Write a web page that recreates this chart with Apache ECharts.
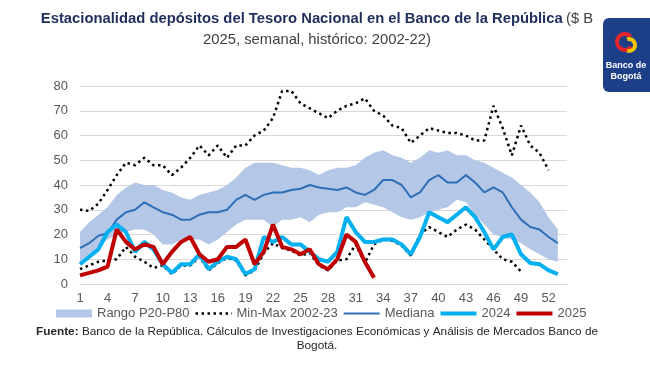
<!DOCTYPE html>
<html><head><meta charset="utf-8">
<script src="https://cdn.jsdelivr.net/npm/echarts@6/dist/echarts.min.js"></script>
<style>html,body{margin:0;padding:0;background:#fff}#c{width:650px;height:365px}</style>
</head><body><div id="c"></div>
<script>
// Week categories (axis runs slightly past the last week)
const weekCats = Array.from({length: 54}, (_, i) => String(i + 1));
const xTickLabels = ['1','4','7','10','13','16','19','22','25','28','31','34','37','40','43','46','49','52'];

// Percentile band (P20 / P80), historic 2002-22
const p20 = [9,12,15,18,20,21,22,22,20,16, 16,18,18,18,16,18,21,24,26,26, 26,23,26,26,27,25,28,29,29,31, 31,33,32,31,29,27,26,27,29,30, 31,34,33,28,24,20,19,18,16.5,14, 12,10,9];
const p80 = [21,25,28,31,36,39,41,40,40,38, 37,35,34,36,37,38,40,43,47,49, 49,49,48,47,47,46,44,46,47,47, 48,51,53,54,52,51,49,51,54,53, 54,52,52,50,49,47,45,43,40,37, 33,27,22];
// Median
const median = [14.5,16.5,19.5,20.5,26,29,30,33,31,29, 28,26,26,28,29,29,30,34,36,34, 36,37,37,38,38.5,40,39,38.5,38,39, 37,36,38,42,42,40,35,37,42,44, 41,41,44,41,37,39,37,31,26,23, 22,19,16.5];
// Min / Max 2002-23
const maxVals = [30,29.5,32.5,38,44,49,48,51,48,48, 44,47,51,56,52,56,51,56,56,60, 62,67,78,78,73,71,69,67,70,72, 73,75,70,68,64,63,57,60,63,62, 61,61,60,58,58,72,63,52,64,56, 53,46];
const minVals = [6,7.5,9,9.5,10,15,11,9,6.5,7.5, 4,7.5,7.5,11,5.5,8.5,10.5,9.5,3.5,5.5, 12.5,16.5,14.5,13.5,11.5,12.5,7.5,5.5,9.5,10, 16,8.5,16,18,17.5,15.5,11.5,20,23,21, 19,22,24,22,18,14,10,9,5];
// Years
const y2024 = [8,11,14,21,24,21,13,17,14,8, 4.5,8,8,12,6,9,11,10,4,6, 19,17,19,16,16,13,10,9,13,27, 21,17,17,18,18,16,12,19,29,27, 25,28,31,27,21,14,19,20,12,8.5, 8,5.5,4];
const y2025 = [3.5,4.5,5.5,7,22,17,14,16,15,8, 13,17,19,12,9,10,15,15,18,8, 13,24,15,14,12,14,8,6,10,20, 17,9,2.5];

const bandWidth = p80.map((v, i) => v - p20[i]);

const FONT = "'Liberation Sans', Arial, sans-serif";
const GRAY = '#595959';

const chart = echarts.init(document.getElementById('c'), null, {renderer: 'canvas'});
chart.setOption({
  animation: false,
  textStyle: {fontFamily: FONT},
  grid: {left: 80, right: 83, top: 86, bottom: 81, containLabel: false},
  xAxis: {
    type: 'category', data: weekCats, boundaryGap: false,
    splitLine: {show: false},
    axisLine: {show: true, lineStyle: {color: '#d9d9d9', width: 1}},
    axisTick: {show: false},
    axisLabel: {
      interval: (idx, val) => xTickLabels.indexOf(val) >= 0,
      color: GRAY, fontSize: 13, fontFamily: FONT, margin: 8
    }
  },
  yAxis: {
    type: 'value', min: 0, max: 80, interval: 10,
    axisLine: {show: false}, axisTick: {show: false},
    splitLine: {lineStyle: {color: '#d9d9d9', width: 1}},
    axisLabel: {color: GRAY, fontSize: 13, fontFamily: FONT, margin: 12}
  },
  legend: {
    left: 51, top: 302, itemWidth: 36, itemHeight: 8, itemGap: 6,
    textStyle: {color: GRAY, fontSize: 13, fontFamily: FONT},
    data: [
      {name: 'Rango P20-P80', icon: 'rect'},
      {name: 'Min-Max 2002-23', icon: 'path://M0,0h2.5v2.5h-2.5zM6,0h2.5v2.5h-2.5zM12,0h2.5v2.5h-2.5zM18,0h2.5v2.5h-2.5zM24,0h2.5v2.5h-2.5zM30,0h2.5v2.5h-2.5zM35.5,0h0.5v2.5h-0.5z'},
      {name: 'Mediana', icon: 'path://M0,0h36v2h-36z'},
      {name: '2024', icon: 'path://M0,0h36v4h-36z'},
      {name: '2025', icon: 'path://M0,0h36v4h-36z'}
    ]
  },
  series: [
    {name: 'base', type: 'line', stack: 'band', data: p20, symbol: 'none',
     lineStyle: {width: 0, opacity: 0}, silent: true, z: 1},
    {name: 'Rango P20-P80', type: 'line', stack: 'band', data: bandWidth, symbol: 'none',
     lineStyle: {width: 0, opacity: 0}, itemStyle: {color: '#b4c7e7'},
     areaStyle: {color: '#b4c7e7', opacity: 1}, silent: true, z: 1},
    {name: 'Min-Max 2002-23', type: 'line', data: maxVals, symbol: 'none', z: 2,
     itemStyle: {color: '#000'},
     lineStyle: {color: '#000', width: 2.5, type: [2.5, 3.5]}},
    {name: 'Min-Max 2002-23', type: 'line', data: minVals, symbol: 'none', z: 2,
     itemStyle: {color: '#000'},
     lineStyle: {color: '#000', width: 2.5, type: [2.5, 3.5]}},
    {name: 'Mediana', type: 'line', data: median, symbol: 'none', z: 3,
     itemStyle: {color: '#2e6fb7'}, lineStyle: {color: '#2e6fb7', width: 2}},
    {name: '2024', type: 'line', data: y2024, symbol: 'none', z: 4,
     itemStyle: {color: '#00b0f0'}, lineStyle: {color: '#00b0f0', width: 4}},
    {name: '2025', type: 'line', data: y2025, symbol: 'none', z: 5,
     itemStyle: {color: '#c00000'}, lineStyle: {color: '#c00000', width: 4}}
  ],
  graphic: [
    {type: 'text', x: 317, y: 11, z: 10,
     style: {
       text: '{b|Estacionalidad depósitos del Tesoro Nacional en el Banco de la República} {n|($ B}',
       align: 'center',
       rich: {
         b: {fontFamily: FONT, fontSize: 14.8, fontWeight: 'bold', fill: '#1f2e5c'},
         n: {fontFamily: FONT, fontSize: 14.8, fill: '#404040'}
       }
     }},
    {type: 'text', x: 317, y: 32, z: 10,
     style: {text: '2025, semanal, histórico: 2002-22)', align: 'center',
       fontFamily: FONT, fontSize: 14.8, fill: '#404040'}},
    {type: 'text', x: 317, y: 326, z: 10,
     style: {
       text: '{b|Fuente:} {n|Banco de la República. Cálculos de Investigaciones Económicas y Análisis de Mercados Banco de}',
       align: 'center',
       rich: {
         b: {fontFamily: FONT, fontSize: 11.8, fontWeight: 'bold', fill: '#262626'},
         n: {fontFamily: FONT, fontSize: 11.8, fill: '#262626'}
       }
     }},
    {type: 'text', x: 317, y: 340, z: 10,
     style: {text: 'Bogotá.', align: 'center', fontFamily: FONT, fontSize: 11.8, fill: '#262626'}},
    {type: 'group', z: 10, children: [
      {type: 'rect', shape: {x: 603, y: 18, width: 52, height: 74, r: 6},
       style: {fill: '#1d3f88'}},
      {type: 'arc', shape: {cx: 625, cy: 42, r: 8, startAngle: Math.PI * 0.2, endAngle: Math.PI * 1.75, clockwise: true},
       style: {stroke: '#e3262d', lineWidth: 4, fill: null}},
      {type: 'arc', shape: {cx: 629, cy: 45, r: 6, startAngle: -Math.PI * 0.6, endAngle: Math.PI * 0.6, clockwise: true},
       style: {stroke: '#f6c500', lineWidth: 4, fill: null}},
      {type: 'text', x: 626, y: 61, style: {text: 'Banco de', fill: '#fff', fontFamily: FONT, fontSize: 9, fontWeight: 'bold', align: 'center'}},
      {type: 'text', x: 626, y: 72, style: {text: 'Bogotá', fill: '#fff', fontFamily: FONT, fontSize: 9, fontWeight: 'bold', align: 'center'}}
    ]}
  ]
});
</script>
</body></html>
